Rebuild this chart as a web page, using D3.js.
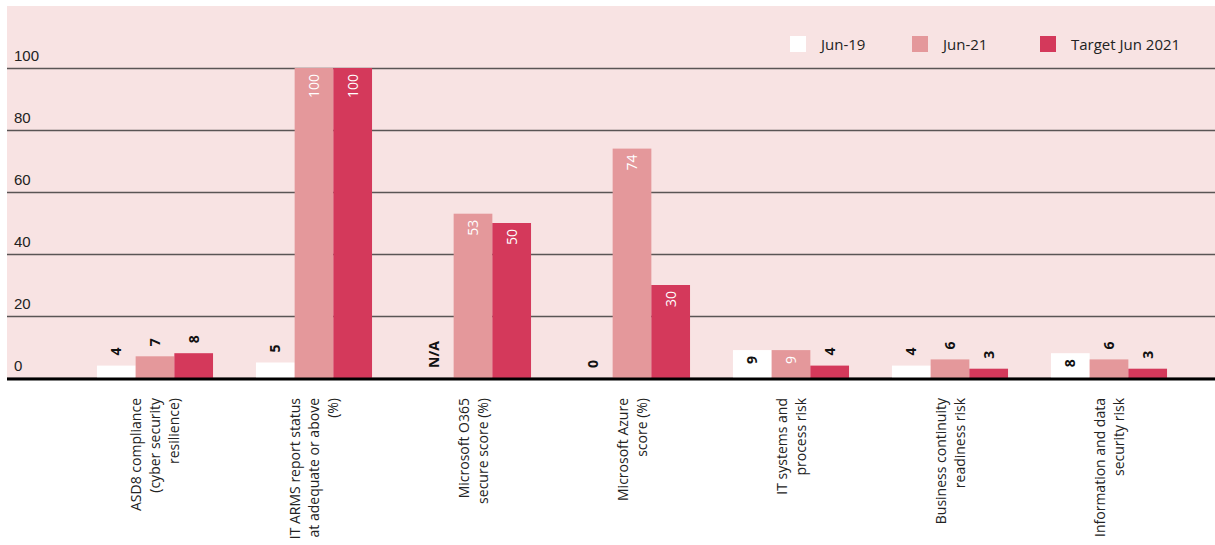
<!DOCTYPE html>
<html>
<head>
<meta charset="utf-8">
<script src="https://cdn.jsdelivr.net/npm/d3@7"></script>
<style>
  html, body { margin: 0; padding: 0; background: #ffffff; }
  svg { display: block; font-family: "Open Sans", "Noto Sans", sans-serif; }
</style>
</head>
<body>
<svg id="chart" width="1215" height="545"></svg>
<script>
// Categories (each label split into its display lines)
const categories = [
  ["ASD8 compliance", "(cyber security", "resilience)"],
  ["IT ARMS report status", "at adequate or above", "(%)"],
  ["Microsoft O365", "secure score (%)"],
  ["Microsoft Azure", "score (%)"],
  ["IT systems and", "process risk"],
  ["Business continuity", "readiness risk"],
  ["Information and data", "security risk"]
];

// Series
const seriesNames = ["Jun-19", "Jun-21", "Target Jun 2021"];
const jun19  = [4, 5, null, 0, 9, 4, 8];
const jun21  = [7, 100, 53, 74, 9, 6, 6];
const target = [8, 100, 50, 30, 4, 3, 3];

// Axis ticks
const yTicks = [0, 20, 40, 60, 80, 100];

// Value labels that sit inside the top of their bar (others sit above it)
const insideLabels = new Set([
  "1|Jun-21", "1|Target Jun 2021",
  "2|Jun-21", "2|Target Jun 2021",
  "3|Jun-21", "3|Target Jun 2021",
  "4|Jun-19", "4|Jun-21",
  "6|Jun-19"
]);

const colors = { "Jun-19": "#ffffff", "Jun-21": "#e4989b", "Target Jun 2021": "#d4395b" };
const labelInk = { "Jun-19": "#111111", "Jun-21": "#ffffff", "Target Jun 2021": "#ffffff" };

const seriesValues = [jun19, jun21, target];
const rows = categories.map((c, i) => ({
  idx: i,
  lines: c,
  values: seriesNames.map((s, k) => ({ series: s, value: seriesValues[k][i], idx: i }))
}));

const svg = d3.select("#chart");

const panel = { left: 7, right: 1215, top: 6, bottom: 379 };

const x0 = d3.scaleBand()
  .domain(d3.range(categories.length))
  .range([75.5, 1188.5])
  .paddingInner(0.27)
  .paddingOuter(0.135);

const x1 = d3.scaleBand()
  .domain(seriesNames)
  .range([0, x0.bandwidth()])
  .padding(0);

const y = d3.scaleLinear().domain([0, 100]).range([378, 68]);

// Background panel
svg.append("rect")
  .attr("x", panel.left).attr("y", panel.top)
  .attr("width", panel.right - panel.left)
  .attr("height", panel.bottom - panel.top)
  .attr("fill", "#f8e3e3");

// Gridlines and tick labels
const yAxis = d3.axisLeft(y)
  .tickValues(yTicks)
  .tickSize(-(panel.right - panel.left))
  .tickFormat(d3.format("d"));

const gy = svg.append("g")
  .attr("transform", `translate(${panel.left},0)`)
  .call(yAxis);
gy.select(".domain").remove();
gy.selectAll(".tick line")
  .attr("stroke", "#5a5555")
  .attr("stroke-width", 1.3);
gy.selectAll(".tick text")
  .attr("x", 7)
  .attr("dy", -8)
  .attr("text-anchor", "start")
  .attr("fill", "#222222")
  .style("font-size", "15px");

// Bars
const groups = svg.append("g").selectAll("g")
  .data(rows)
  .join("g")
  .attr("transform", d => `translate(${x0(d.idx)},0)`);

groups.selectAll("rect")
  .data(d => d.values)
  .join("rect")
  .attr("x", d => x1(d.series))
  .attr("width", x1.bandwidth())
  .attr("y", d => y(d.value || 0))
  .attr("height", d => y(0) - y(d.value || 0))
  .attr("fill", d => colors[d.series]);

// Value labels
groups.selectAll("text.val")
  .data(d => d.values)
  .join("text")
  .attr("class", "val")
  .each(function (d) {
    const inside = insideLabels.has(`${d.idx}|${d.series}`);
    const top = y(d.value || 0);
    const cx = x1(d.series) + x1.bandwidth() / 2;
    const ty = inside ? top + 6 : top - 10;
    d3.select(this)
      .attr("transform", `translate(${cx},${ty}) rotate(-90)`)
      .attr("text-anchor", inside ? "end" : "start")
      .attr("dy", "0.36em")
      .attr("fill", inside ? labelInk[d.series] : "#111111")
      .style("font-weight", inside && d.series !== "Jun-19" ? 500 : 700)
      .style("font-size", "14px")
      .text(d.value === null ? "N/A" : d.value);
  });

// Baseline
svg.append("line")
  .attr("x1", panel.left).attr("x2", panel.right)
  .attr("y1", y(0) + 1).attr("y2", y(0) + 1)
  .attr("stroke", "#000000")
  .attr("stroke-width", 3);

// Category labels, rotated and aligned at the top
const lineGap = 19;
svg.append("g").selectAll("text")
  .data(rows)
  .join("text")
  .attr("transform", d => `translate(${x0(d.idx) + x0.bandwidth() / 2},398) rotate(-90)`)
  .attr("text-anchor", "end")
  .attr("fill", "#222222")
  .style("font-size", "14px")
  .each(function (d) {
    const n = d.lines.length;
    d3.select(this).selectAll("tspan")
      .data(d.lines)
      .join("tspan")
      .attr("x", 0)
      .attr("y", (l, i) => (i - (n - 1) / 2) * lineGap + 5)
      .text(l => l);
  });

// Legend
const legendX = [790, 912, 1040];
const legend = svg.append("g").selectAll("g")
  .data(seriesNames)
  .join("g")
  .attr("transform", (d, i) => `translate(${legendX[i]},36)`);
legend.append("rect")
  .attr("width", 16).attr("height", 16)
  .attr("fill", d => colors[d]);
legend.append("text")
  .attr("x", 31).attr("y", 13.5)
  .attr("fill", "#222222")
  .style("font-size", "15px")
  .text(d => d);
</script>
</body>
</html>
